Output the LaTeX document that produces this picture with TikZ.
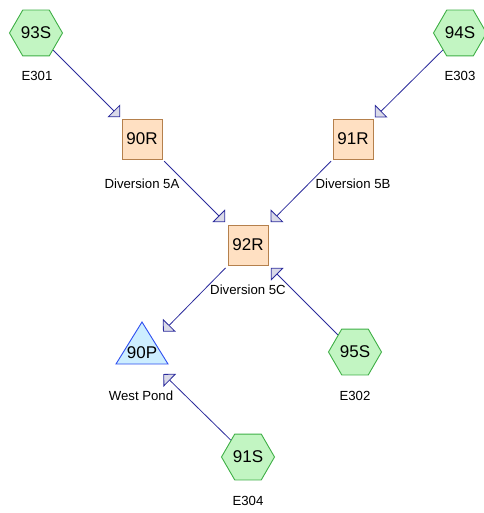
\documentclass[tikz,border=0pt]{standalone}
\usepackage{fontspec}
\setmainfont{Liberation Sans}
\usetikzlibrary{shapes.geometric,arrows.meta}
\definecolor{hexfill}{HTML}{C2F5C2}
\definecolor{hexdraw}{HTML}{3FAF46}
\definecolor{boxfill}{HTML}{FFE0C2}
\definecolor{boxdraw}{HTML}{B5804C}
\definecolor{trifill}{HTML}{CDEEFF}
\definecolor{tridraw}{HTML}{2E4EF0}
\definecolor{linkcol}{HTML}{2B2B9C}
\definecolor{headfill}{HTML}{DADAE8}
\begin{document}
\begin{tikzpicture}[x=1pt,y=-1pt,
  hexnode/.style={regular polygon,regular polygon sides=6,minimum size=53pt,inner sep=0pt,
    fill=hexfill,draw=hexdraw,line width=0.9pt,font=\fontsize{17}{19}\selectfont},
  boxnode/.style={rectangle,minimum size=40pt,inner sep=0pt,fill=boxfill,draw=boxdraw,
    line width=0.9pt,font=\fontsize{17}{19}\selectfont},
  trinode/.style={inner sep=0pt,font=\fontsize{17}{19}\selectfont},
  lbl/.style={inner sep=0pt,font=\fontsize{13.2}{15}\selectfont},
  link/.style={draw=linkcol,line width=0.8pt,
    -{Triangle[length=9pt,width=18pt,fill=headfill]}}
]
\useasboundingbox (0,0) rectangle (483,513);
% nodes
\node[hexnode] (s93) at (36,33) {93S};
\node[lbl] (l93) at (37,76) {E301};
\node[hexnode] (s94) at (460,33) {94S};
\node[lbl] (l94) at (460,76) {E303};
\node[boxnode] (r90) at (142,139) {90R};
\node[lbl] (l90r) at (142,184) {Diversion 5A};
\node[boxnode] (r91) at (353,139) {91R};
\node[lbl] (l91r) at (353,184) {Diversion 5B};
\node[boxnode] (r92) at (248,245) {92R};
\node[lbl] (l92r) at (248,290) {Diversion 5C};
\draw[fill=trifill,draw=tridraw,line width=0.9pt] (142,322) -- (168,364) -- (116,364) -- cycle;
\node[trinode] (p90) at (142,353) {90P};
\node[lbl] (l90p) at (141,396) {West Pond};
\node[hexnode] (s95) at (355,352) {95S};
\node[lbl] (l95) at (355,396) {E302};
\node[hexnode] (s91) at (248,457) {91S};
\node[lbl] (l91) at (248,501) {E304};
% connectors
\draw[link,shorten >=2pt] (s93) -- (r90);
\draw[link,shorten >=2pt] (s94) -- (r91);
\draw[link,shorten <=2.5pt,shorten >=3.5pt] (r90) -- (r92);
\draw[link,shorten <=2.5pt,shorten >=3.5pt] (r91) -- (r92);
\draw[link,shorten <=3.5pt,shorten >=30pt] (r92) -- (p90.center);
\draw[link,shorten >=3.5pt] (s95) -- (r92);
\draw[link,shorten >=30pt] (s91) -- (p90.center);
\end{tikzpicture}
\end{document}
